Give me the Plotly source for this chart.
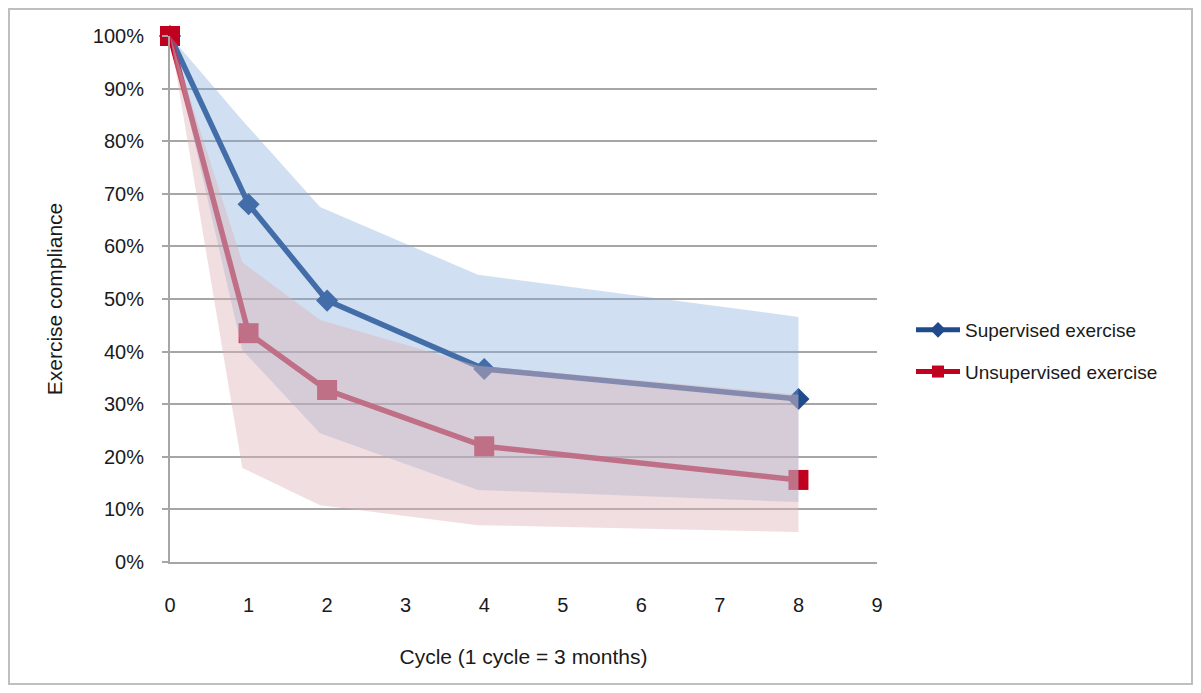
import plotly.graph_objects as go

# ---- data ----
cycles = [0, 1, 2, 4, 8]
supervised = [1.00, 0.68, 0.497, 0.367, 0.31]
unsupervised = [1.00, 0.435, 0.327, 0.22, 0.156]

band_x = [0, 0.92, 1.91, 3.92, 8]
sup_upper = [1.00, 0.84, 0.675, 0.546, 0.466]
sup_lower = [1.00, 0.403, 0.245, 0.137, 0.114]
unsup_upper = [1.00, 0.57, 0.46, 0.373, 0.318]
unsup_lower = [1.00, 0.179, 0.108, 0.07, 0.057]

x_ticks = list(range(0, 10))
y_ticks = [i / 10 for i in range(0, 11)]
y_tick_text = [f"{i * 10}%" for i in range(0, 11)]

series_names = ["Supervised exercise", "Unsupervised exercise"]
line_colors = ["#1F4B8C", "#C0001E"]
band_colors = ["rgba(128,168,217,0.37)", "rgba(223,178,184,0.43)"]

W, H = 1185, 677
ML, MR, MT, MB = 162, 316, 28, 123
PW = W - ML - MR
PH = H - MT - MB

FONT = "Liberation Sans"

fig = go.Figure()

# lines first (bands overlay them, as in the original)
fig.add_trace(go.Scatter(
    x=cycles, y=supervised, name=series_names[0], mode="lines+markers",
    line=dict(color=line_colors[0], width=5.5),
    marker=dict(symbol="diamond", size=17, color=line_colors[0]),
    legendgroup="a", cliponaxis=False,
))
fig.add_trace(go.Scatter(
    x=cycles, y=unsupervised, name=series_names[1], mode="lines+markers",
    line=dict(color=line_colors[1], width=5.5),
    marker=dict(symbol="square", size=20, color=line_colors[1]),
    legendgroup="b", cliponaxis=False,
))

# confidence bands
for upper, lower, col in [(sup_upper, sup_lower, band_colors[0]),
                          (unsup_upper, unsup_lower, band_colors[1])]:
    fig.add_trace(go.Scatter(
        x=band_x + band_x[::-1], y=upper + lower[::-1],
        fill="toself", fillcolor=col, mode="lines",
        line=dict(width=0, color=col), showlegend=False, hoverinfo="skip",
    ))

fig.update_layout(
    width=W, height=H,
    margin=dict(l=ML, r=MR, t=MT, b=MB, pad=0),
    paper_bgcolor="white", plot_bgcolor="white",
    font=dict(family=FONT, color="#1a1a1a", size=20),
    showlegend=True,
    legend=dict(
        x=1 + (911 - 8 - ML - PW) / PW, xanchor="left",
        y=1 - (311 - 8 - MT) / PH, yanchor="top",
        font=dict(size=19, family=FONT, color="#1a1a1a"),
        bgcolor="rgba(0,0,0,0)", tracegroupgap=14, itemwidth=44,
        itemsizing="constant",
    ),
    xaxis=dict(
        range=[0, 9], tickmode="array", tickvals=x_ticks,
        ticktext=[str(v) for v in x_ticks],
        showgrid=False, zeroline=False, showline=True,
        linecolor="#A6A6A6", linewidth=2, ticks="",
        ticklabelstandoff=24, tickfont=dict(size=20),
        title=dict(text="Cycle (1 cycle = 3 months)", font=dict(size=21), standoff=34),
    ),
    yaxis=dict(
        range=[0, 1], tickmode="array", tickvals=y_ticks, ticktext=y_tick_text,
        showgrid=True, gridcolor="#A6A6A6", gridwidth=2,
        zeroline=False, showline=True, linecolor="#A6A6A6", linewidth=2,
        ticks="outside", ticklen=6, tickcolor="#A6A6A6", tickwidth=2,
        ticklabelstandoff=14, tickfont=dict(size=20),
        title=dict(text="Exercise compliance", font=dict(size=21), standoff=24),
    ),
    shapes=[dict(
        type="rect", xref="paper", yref="paper",
        x0=(-ML + 1) / PW, x1=1 + (MR - 1) / PW,
        y0=(-MB + 1) / PH, y1=1 + (MT - 1) / PH,
        line=dict(color="#BFBFBF", width=2), fillcolor="rgba(0,0,0,0)",
        layer="below",
    )],
)

fig.write_html("out.html")
